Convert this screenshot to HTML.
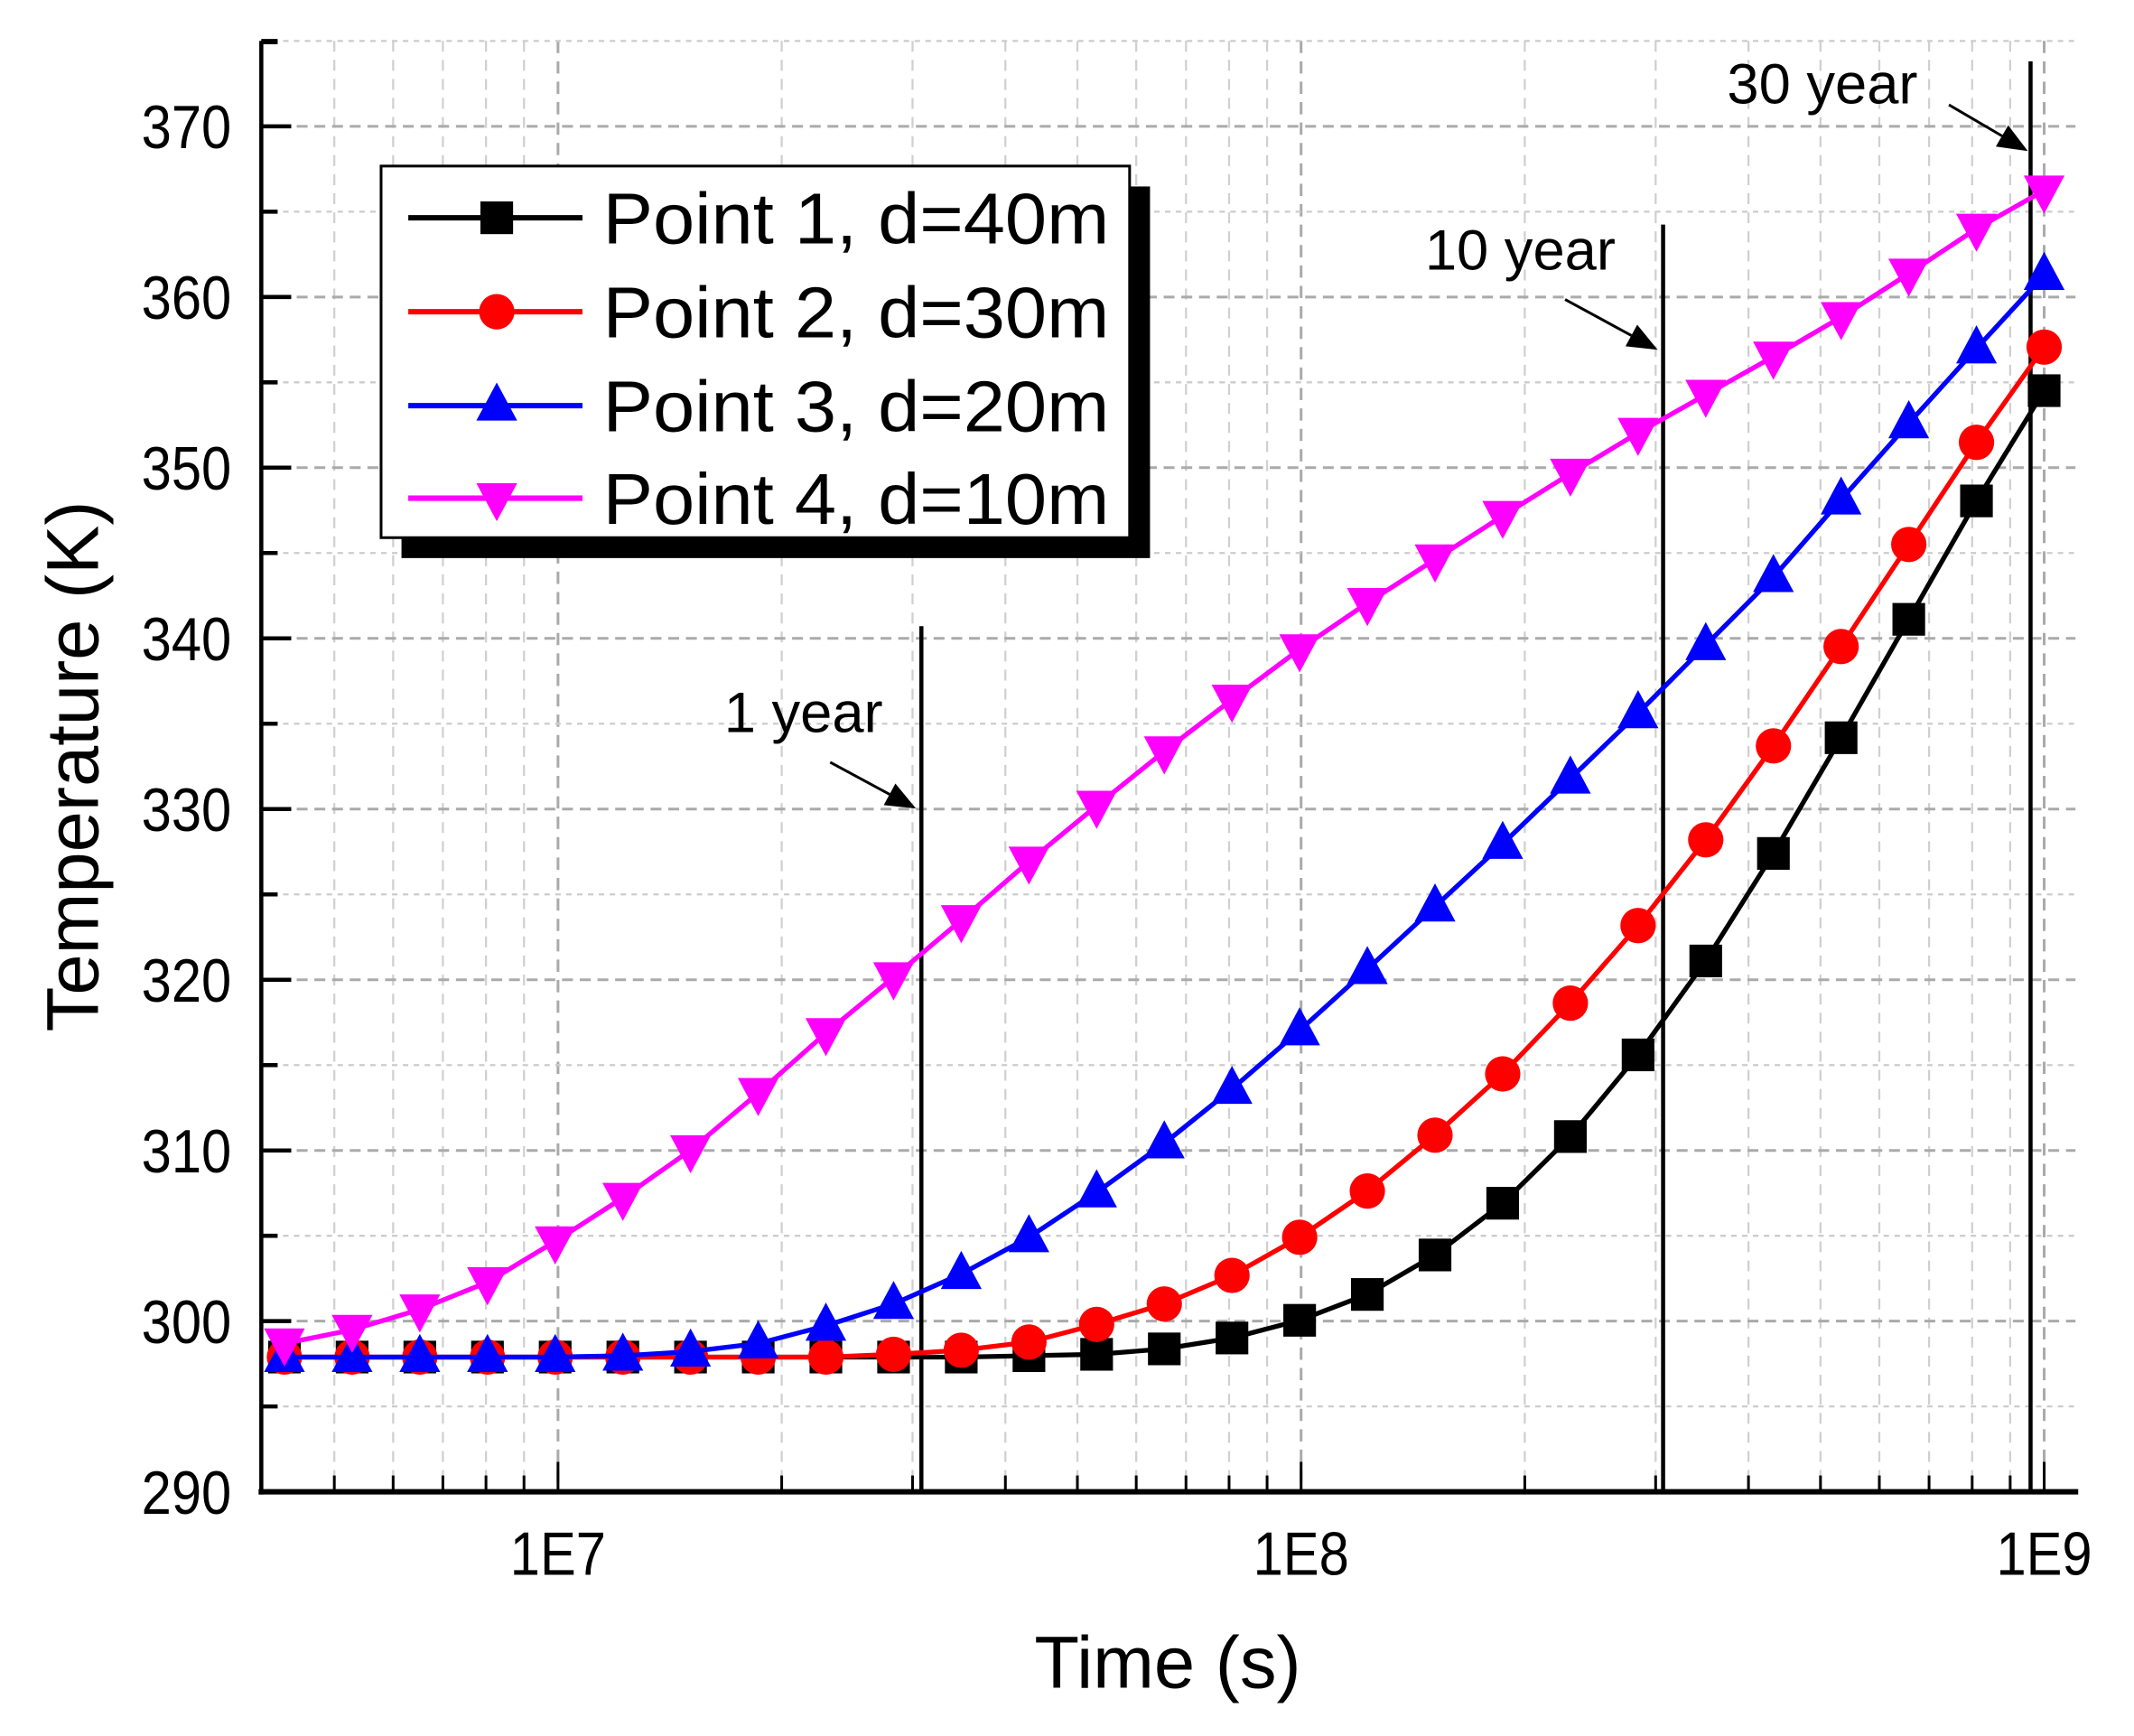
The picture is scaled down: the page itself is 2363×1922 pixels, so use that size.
<!DOCTYPE html>
<html><head><meta charset="utf-8"><style>html,body{margin:0;padding:0;background:#fff;}svg{display:block;}</style></head>
<body>
<svg id="s" width="2363" height="1922" viewBox="0 0 1568 1275.4" preserveAspectRatio="none" xmlns="http://www.w3.org/2000/svg" font-family="Liberation Sans, Arial, sans-serif"></svg>
<script>
const s=document.getElementById('s');let h='';
const X0=410,DEC=546,Y290=1096,PK=125.4;
const xl=v=>X0+(Math.log10(v)-7)*DEC;
const yv=t=>Y290-(t-290)*PK/10;
for(let e=6;e<=9;e++)for(let m=1;m<=9;m++){const v=m*Math.pow(10,e);const x=xl(v);if(x<195||x>1525)continue;
 if(m==1)h+=`<line x1="${x}" y1="30" x2="${x}" y2="1096" stroke="#aaa" stroke-width="2" stroke-dasharray="9,6"/>`;
 else h+=`<line x1="${x}" y1="30" x2="${x}" y2="1096" stroke="#d0d0d0" stroke-width="1.5" stroke-dasharray="8,6"/>`;}
for(let t=295;t<=375;t+=5){const y=yv(t);
 if(t%10==0)h+=`<line x1="192" y1="${y}" x2="1525" y2="${y}" stroke="#aaa" stroke-width="2" stroke-dasharray="8,5"/>`;
 else h+=`<line x1="192" y1="${y}" x2="1525" y2="${y}" stroke="#ccc" stroke-width="1.5" stroke-dasharray="4,4"/>`;}
h+=`<line x1="192" y1="30" x2="192" y2="1098" stroke="#000" stroke-width="3"/>`;
h+=`<line x1="190" y1="1096" x2="1527" y2="1096" stroke="#000" stroke-width="4"/>`;
h+=`<line x1="192" y1="31" x2="204" y2="31" stroke="#000" stroke-width="3"/>`;
for(let t=290;t<=375;t+=5){const y=yv(t);const L=t%10==0?22:12;h+=`<line x1="192" y1="${y}" x2="${192+L}" y2="${y}" stroke="#000" stroke-width="3"/>`;
 if(t%10==0)h+=`<text x="0" y="0" font-size="45" text-anchor="end" transform="translate(170,${y+16}) scale(0.88,1)">${t}</text>`;}
for(let e=6;e<=9;e++)for(let m=1;m<=9;m++){const v=m*Math.pow(10,e);const x=xl(v);if(x<195||x>1525)continue;const L=m==1?22:12;
 h+=`<line x1="${x}" y1="1096" x2="${x}" y2="${1096-L}" stroke="#000" stroke-width="2"/>`;
 if(m==1)h+=`<text x="0" y="0" font-size="45" text-anchor="middle" transform="translate(${x},1157) scale(0.88,1)">1E${e}</text>`;}
h+=`<text x="858" y="1240" font-size="54" text-anchor="middle">Time (s)</text>`;
h+=`<text transform="translate(72,563) rotate(-90)" font-size="54" text-anchor="middle">Temperature (K)</text>`;
h+=`<line x1="677" y1="460" x2="677" y2="1096" stroke="#000" stroke-width="3"/>`;
h+=`<line x1="1222" y1="165" x2="1222" y2="1096" stroke="#000" stroke-width="3"/>`;
h+=`<line x1="1492" y1="45" x2="1492" y2="1096" stroke="#000" stroke-width="3"/>`;
function arrow(x1,y1,x2,y2){const a=Math.atan2(y2-y1,x2-x1),L=22,W=9;const bx=x2-L*Math.cos(a),by=y2-L*Math.sin(a);
 h+=`<line x1="${x1}" y1="${y1}" x2="${bx}" y2="${by}" stroke="#000" stroke-width="2"/>`;
 h+=`<polygon points="${x2},${y2} ${bx+W*Math.sin(a)},${by-W*Math.cos(a)} ${bx-W*Math.sin(a)},${by+W*Math.cos(a)}" fill="#000"/>`;}
h+=`<text x="532" y="538" font-size="42">1 year</text>`;arrow(610,560,673,594);
h+=`<text x="1047" y="198" font-size="42">10 year</text>`;arrow(1150,220,1218,257);
h+=`<text x="1269" y="76" font-size="42">30 year</text>`;arrow(1432,77,1490,111);
const xs=[];for(let i=0;i<27;i++)xs.push(209+i*49.73);
const blk=[997,997,997,997,997,997,997,997,997,997,997,996,995,991,983,970,951,922,884,835,775,706,627,542,455,368,287];
const red=[997,997,997,997,997,997,997,997,997,995,992,986,973,958,937,909,875,834,789,737,680,617,548,475,400,325,255];
const blu=[997,997,997,997,997,996,993,987,974,958,936,909,876,840,800,757,712,666,620,572,524,474,424,367,311,256,202];
const mag=[987,977,962,942,912,880,845,803,759,718,676,633,592,552,514,477,443,411,379,348,318,290,262,233,201,168,140];
function mk(t,x,y,c){if(t==0)return `<rect x="${x-12}" y="${y-12}" width="24" height="24" fill="${c}"/>`;
 if(t==1)return `<circle cx="${x}" cy="${y}" r="13" fill="${c}"/>`;
 if(t==2)return `<polygon points="${x},${y-17} ${x-15},${y+11} ${x+15},${y+11}" fill="${c}"/>`;
 return `<polygon points="${x},${y+17} ${x-15},${y-11} ${x+15},${y-11}" fill="${c}"/>`;}
const S=[[blk,'#000',0],[red,'#f00',1],[blu,'#00f',2],[mag,'#f0f',3]];
for(const [d,c,t] of S){h+=`<polyline fill="none" stroke="${c}" stroke-width="3.5" points="${d.map((y,i)=>xs[i]+','+y).join(' ')}"/>`;
 d.forEach((y,i)=>h+=mk(t,xs[i],y,c));}
h+=`<rect x="295" y="137" width="550" height="273" fill="#000"/>`;
h+=`<rect x="280" y="122" width="550" height="273" fill="#fff" stroke="#000" stroke-width="2"/>`;
const lab=['Point 1, d=40m','Point 2, d=30m','Point 3, d=20m','Point 4, d=10m'];
[160,229,298,366].forEach((y,i)=>{const [d,c,t]=S[i];h+=`<line x1="300" y1="${y}" x2="428" y2="${y}" stroke="${c}" stroke-width="4"/>`+mk(t,365,y,c);
 h+=`<text x="443" y="${y+19}" font-size="53" textLength="372" lengthAdjust="spacingAndGlyphs">${lab[i]}</text>`;});
s.innerHTML=h;
</script>
</body></html>
